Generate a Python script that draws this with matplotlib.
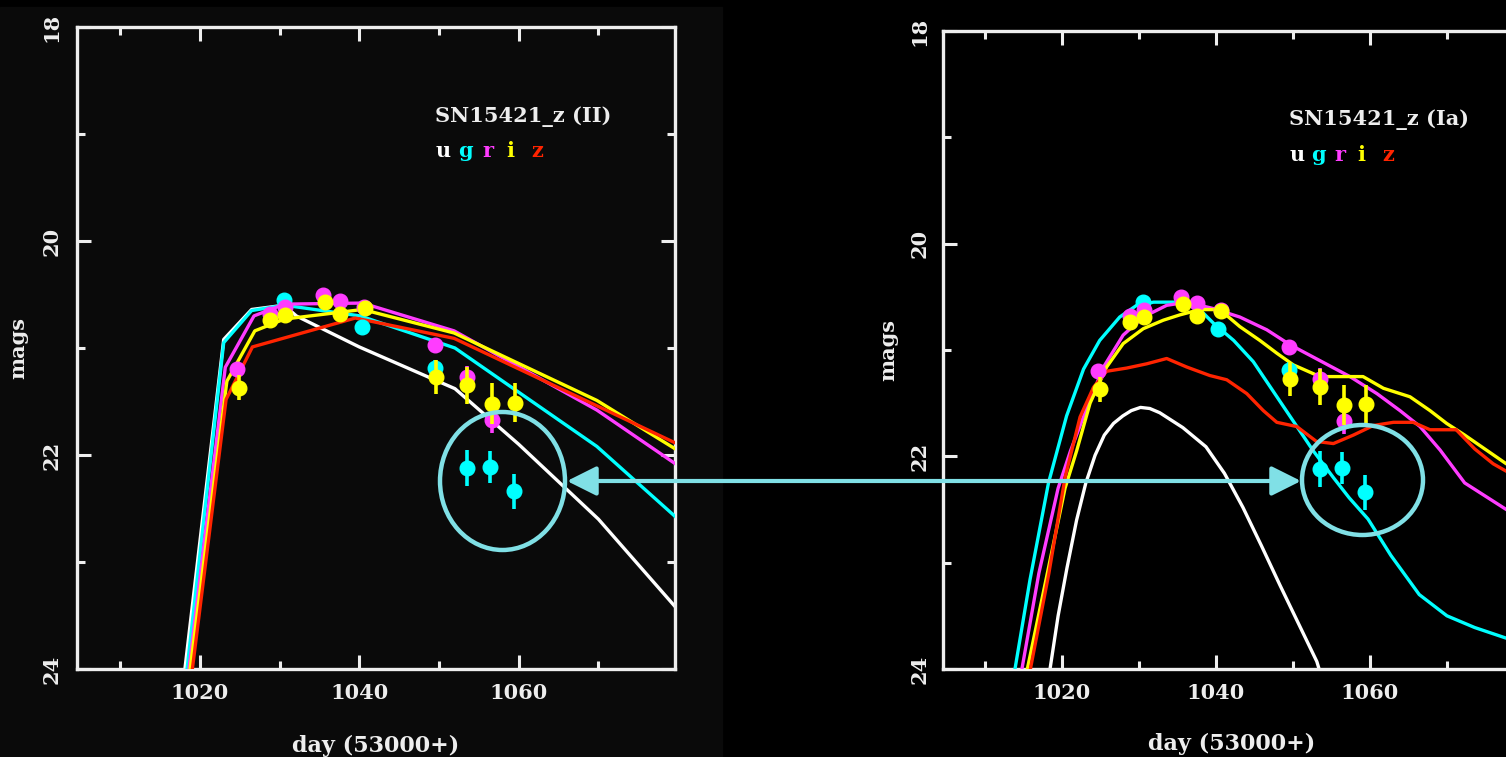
import matplotlib
matplotlib.use('Agg')
import matplotlib.pyplot as plt
from matplotlib.patches import Ellipse, FancyArrowPatch, Rectangle
from matplotlib.ticker import MultipleLocator

# ---------------- data ----------------
# observations (same in both panels)
g_obs_x = [1030.5, 1040.3, 1049.5, 1053.5, 1056.4, 1059.4]
g_obs_y = [20.55, 20.80, 21.19, 22.12, 22.11, 22.34]
g_obs_e = [0.05, 0.05, 0.08, 0.17, 0.15, 0.16]

r_obs_x = [1024.7, 1028.8, 1030.7, 1035.5, 1037.6, 1040.6, 1049.5, 1053.5, 1056.6]
r_obs_y = [21.20, 20.68, 20.62, 20.50, 20.56, 20.62, 20.97, 21.27, 21.67]
r_obs_e = [0.06, 0.05, 0.05, 0.05, 0.05, 0.05, 0.06, 0.10, 0.12]

i_obs_x = [1024.9, 1028.8, 1030.7, 1035.7, 1037.6, 1040.7, 1049.6, 1053.5, 1056.6, 1059.5]
i_obs_y = [21.37, 20.74, 20.69, 20.57, 20.68, 20.63, 21.27, 21.35, 21.52, 21.51]
i_obs_e = [0.12, 0.06, 0.06, 0.06, 0.06, 0.06, 0.16, 0.17, 0.19, 0.18]

# Type II model (left panel)
u_II_x = [1017.5, 1023.0, 1026.5, 1030.6, 1032.1, 1040.0, 1052.0, 1060.0, 1070.0, 1080.0]
u_II_y = [24.4, 20.92, 20.64, 20.60, 20.70, 20.99, 21.38, 21.90, 22.60, 23.45]
g_II_x = [1017.8, 1023.0, 1026.5, 1030.6, 1040.1, 1052.0, 1069.8, 1080.0]
g_II_y = [24.4, 20.95, 20.65, 20.60, 20.70, 21.00, 21.92, 22.60]
r_II_x = [1018.0, 1023.2, 1026.8, 1030.6, 1040.4, 1051.9, 1069.8, 1080.0]
r_II_y = [24.4, 21.18, 20.70, 20.59, 20.58, 20.84, 21.58, 22.10]
i_II_x = [1018.1, 1023.4, 1026.9, 1030.6, 1040.4, 1051.9, 1069.8, 1080.0]
i_II_y = [24.4, 21.31, 20.84, 20.73, 20.64, 20.86, 21.49, 21.96]
z_II_x = [1018.4, 1023.3, 1026.6, 1039.5, 1051.9, 1069.8, 1080.0]
z_II_y = [24.4, 21.48, 20.99, 20.72, 20.91, 21.54, 21.90]

# Type Ia model (right panel)
u_Ia_x = [1018.0, 1018.45, 1019.5, 1020.65, 1021.9, 1023.1, 1024.3, 1025.5, 1026.7, 1027.9,
          1029.0, 1030.2, 1031.4, 1032.7, 1035.7, 1038.7, 1041.1, 1043.5, 1045.9, 1048.3,
          1050.7, 1053.1, 1053.6]
u_Ia_y = [24.2, 24.0, 23.5, 23.05, 22.6, 22.25, 21.99, 21.80, 21.69, 21.62,
          21.57, 21.54, 21.55, 21.59, 21.73, 21.91, 22.16, 22.48, 22.84, 23.21,
          23.57, 23.93, 24.05]
g_Ia_x = [1013.5, 1013.9, 1015.85, 1018.25, 1020.6, 1022.8, 1024.9, 1027.5, 1029.7, 1031.9,
          1035.3, 1037.9, 1039.7, 1042.3, 1044.85, 1047.45, 1050.05, 1052.65, 1055.25, 1057.3,
          1059.75, 1062.7, 1066.4, 1070.0, 1073.6, 1077.7, 1080.0]
g_Ia_y = [24.2, 24.0, 23.16, 22.25, 21.62, 21.18, 20.91, 20.69, 20.58, 20.55,
          20.55, 20.62, 20.75, 20.91, 21.11, 21.39, 21.67, 21.95, 22.20, 22.39,
          22.59, 22.93, 23.30, 23.50, 23.61, 23.71, 23.74]
r_Ia_x = [1014.4, 1014.8, 1017.0, 1019.5, 1021.1, 1023.2, 1025.4, 1027.95, 1030.55, 1033.6,
          1036.2, 1039.65, 1043.1, 1046.6, 1049.6, 1053.5, 1057.4, 1060.9, 1063.9, 1066.5,
          1069.1, 1072.3, 1077.7, 1080.0]
r_Ia_y = [24.2, 24.0, 23.10, 22.30, 21.95, 21.55, 21.16, 20.86, 20.69, 20.58,
          20.55, 20.61, 20.69, 20.81, 20.95, 21.10, 21.25, 21.41, 21.57, 21.72,
          21.94, 22.25, 22.50, 22.60]
i_Ia_x = [1015.1, 1015.5, 1018.1, 1020.4, 1021.9, 1023.65, 1025.8, 1027.95, 1030.55, 1033.15,
          1035.3, 1037.9, 1040.5, 1043.1, 1045.7, 1047.9, 1050.05, 1053.5, 1059.1, 1061.75,
          1065.2, 1067.8, 1069.95, 1072.3, 1077.7, 1080.0]
i_Ia_y = [24.2, 24.0, 23.10, 22.30, 21.95, 21.50, 21.16, 20.94, 20.80, 20.72,
          20.67, 20.62, 20.62, 20.78, 20.91, 21.03, 21.14, 21.25, 21.25, 21.36,
          21.44, 21.57, 21.69, 21.80, 22.07, 22.15]
z_Ia_x = [1015.5, 1015.9, 1018.3, 1020.4, 1022.35, 1024.1, 1025.8, 1028.4, 1031.0, 1033.6,
          1036.2, 1039.2, 1041.4, 1044.0, 1046.15, 1047.9, 1050.5, 1053.05, 1055.25, 1057.85,
          1060.45, 1063.05, 1065.6, 1067.8, 1071.2, 1073.6, 1076.0, 1077.7, 1080.0]
z_Ia_y = [24.2, 24.0, 23.10, 22.20, 21.63, 21.35, 21.20, 21.17, 21.13, 21.08,
          21.16, 21.24, 21.28, 21.41, 21.57, 21.68, 21.72, 21.86, 21.88, 21.80,
          21.71, 21.68, 21.68, 21.75, 21.75, 21.93, 22.07, 22.14, 22.20]

band_labels = ['u', 'g', 'r', 'i', 'z']
band_colors = ['#ffffff', '#00ffff', '#ff3cff', '#ffff00', '#ff2400']
x_major = [1020, 1040, 1060]
y_major = [18, 20, 22, 24]

# ---------------- figure ----------------
W, H = 1506, 757
fig = plt.figure(figsize=(W / 100, H / 100), dpi=100, facecolor='black')
fig.add_artist(Rectangle((0, 0), 722 / W, (H - 7) / H, transform=fig.transFigure,
                         color='#0a0a0a', zorder=-5))

FONT = 'DejaVu Serif'
FG = '#eeeeee'


def style_axes(ax, xlim, ypad, title, models, xlab_y, ylab_x):
    ax.set_facecolor('none')
    ax.set_xlim(*xlim)
    ax.set_ylim(24, 18)
    ax.set_xticks(x_major)
    ax.xaxis.set_minor_locator(MultipleLocator(10))
    ax.set_yticks(y_major)
    ax.yaxis.set_minor_locator(MultipleLocator(1))
    ax.tick_params(which='both', direction='in', top=True, right=True,
                   color=FG, width=2.2, labelcolor=FG, labelsize=15)
    ax.tick_params(which='major', length=10)
    ax.tick_params(which='minor', length=5.5)
    ax.tick_params(axis='x', pad=10)
    ax.tick_params(axis='y', pad=ypad)
    for lab in ax.get_xticklabels() + ax.get_yticklabels():
        lab.set_fontfamily(FONT)
        lab.set_fontweight('bold')
    for lab in ax.get_yticklabels():
        lab.set_rotation(90)
        lab.set_va('center')
    for s in ax.spines.values():
        s.set_color(FG)
        s.set_linewidth(2.4)
    ax.set_xlabel('day (53000+)', fontsize=16, fontweight='bold', family=FONT, color=FG)
    ax.xaxis.set_label_coords(0.5, xlab_y)
    ax.set_ylabel('mags', fontsize=15, fontweight='bold', family=FONT, color=FG)
    ax.yaxis.set_label_coords(ylab_x, 0.5)

    for k, (mx, my) in enumerate(models):
        ax.plot(mx, my, color=band_colors[k], lw=2.4, zorder=2 + k, solid_capstyle='round')

    for k, (ox, oy, oe) in zip([1, 2, 3], [(g_obs_x, g_obs_y, g_obs_e),
                                          (r_obs_x, r_obs_y, r_obs_e),
                                          (i_obs_x, i_obs_y, i_obs_e)]):
        ax.errorbar(ox, oy, yerr=oe, fmt='o', color=band_colors[k], ms=10.5,
                    mec=band_colors[k], elinewidth=2.6, capsize=0, zorder=10 + k)

    ax.text(0.599, 0.852, title, transform=ax.transAxes, ha='left', va='baseline',
            fontsize=15, fontweight='bold', family=FONT, color=FG, zorder=20)
    for lx, lab, col in zip([0.600, 0.638, 0.678, 0.718, 0.760], band_labels, band_colors):
        ax.text(lx, 0.797, lab, transform=ax.transAxes, ha='left', va='baseline',
                fontsize=15, fontweight='bold', family=FONT, color=col, zorder=20)


ax1 = fig.add_axes([77 / W, (H - 669) / H, 598 / W, 642 / H])
style_axes(ax1, (1004.6, 1079.6), 11, 'SN15421_z (II)',
           [(u_II_x, u_II_y), (g_II_x, g_II_y), (r_II_x, r_II_y),
            (i_II_x, i_II_y), (z_II_x, z_II_y)],
           -0.103, -0.082)

ax2 = fig.add_axes([943 / W, (H - 669) / H, 577.5 / W, 638 / H])
style_axes(ax2, (1004.55, 1079.55), 9.5, 'SN15421_z (Ia)',
           [(u_Ia_x, u_Ia_y), (g_Ia_x, g_Ia_y), (r_Ia_x, r_Ia_y),
            (i_Ia_x, i_Ia_y), (z_Ia_x, z_Ia_y)],
           -0.100, -0.078)

# annotation: circles and double arrow
ANN = '#80e0e6'
fig.add_artist(Ellipse((502.5 / W, 1 - 481 / H), 125 / W, 138 / H, transform=fig.transFigure,
                       fill=False, ec=ANN, lw=3.2, zorder=30))
fig.add_artist(Ellipse((1362.5 / W, 1 - 480 / H), 121 / W, 110 / H, transform=fig.transFigure,
                       fill=False, ec=ANN, lw=3.2, zorder=30))
fig.add_artist(FancyArrowPatch((567 / W, 1 - 481 / H), (1301 / W, 1 - 481 / H),
                               transform=fig.transFigure,
                               arrowstyle='<|-|>,head_length=0.9,head_width=0.45',
                               mutation_scale=20, color=ANN, lw=3.0,
                               shrinkA=0, shrinkB=0, zorder=30))

fig.savefig('out.png', dpi=100, facecolor=fig.get_facecolor())
